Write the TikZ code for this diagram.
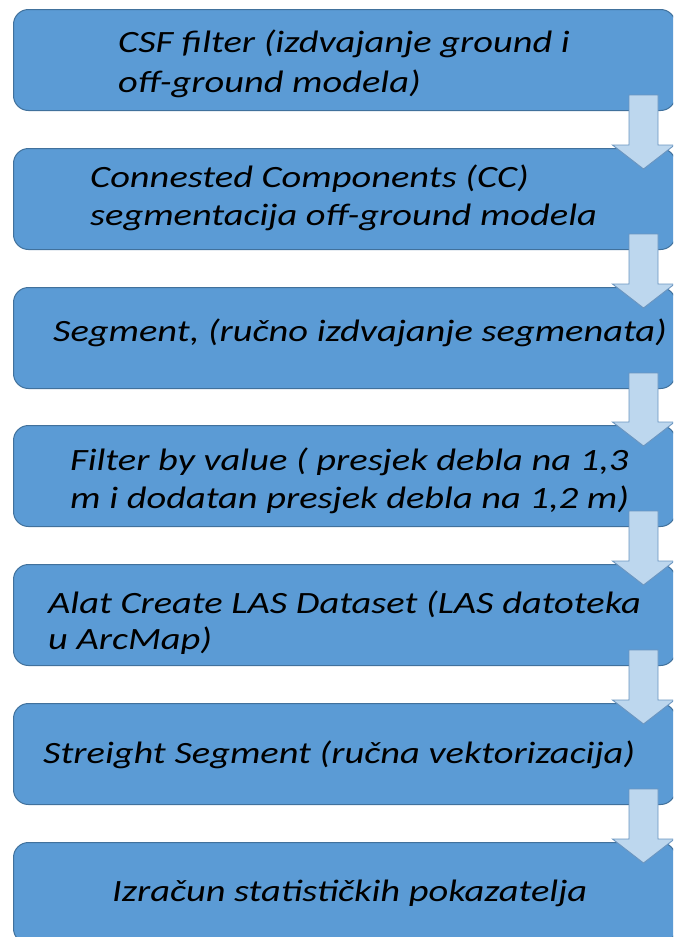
\documentclass[tikz,border=0pt]{standalone}
\usepackage{fontspec}
\setmainfont{Carlito}
\usetikzlibrary{calc}
\definecolor{boxfill}{HTML}{5B9BD5}
\definecolor{boxline}{HTML}{41719C}
\definecolor{arrfill}{HTML}{BDD7EE}
\definecolor{arrline}{HTML}{6A95C0}
\newcommand{\wide}[1]{\scalebox{1.24}[1]{#1}}
\begin{document}
\begin{tikzpicture}[x=1pt,y=-1pt,
  stepbox/.style={draw=boxline,fill=boxfill,line width=1pt,rounded corners=15pt,
    minimum width=662pt,minimum height=101pt,anchor=north west,inner sep=0pt},
  txt/.style={anchor=base west,inner sep=0pt,font=\fontsize{31}{38}\selectfont\itshape},
  flow/.style={draw=arrline,fill=arrfill,line width=0.9pt,line join=miter}]
\useasboundingbox (0,0) rectangle (673,937);
\begin{scope}
\clip (0,0) rectangle (673,937);
\node[stepbox] (b1) at (13,9) {};
\node[stepbox] (b2) at (13,148) {};
\node[stepbox] (b3) at (13,287) {};
\node[stepbox] (b4) at (13,425) {};
\node[stepbox] (b5) at (13,564) {};
\node[stepbox] (b6) at (13,703) {};
\node[stepbox] (b7) at (13,842) {};
\coordinate (ax) at (643.5,0);
\foreach \a/\b in {b1/b2,b2/b3,b3/b4,b4/b5,b5/b6,b6/b7}{
  \draw[flow] ($(\a.south -| ax)+(-14.5,-16)$) -- ($(\a.south -| ax)+(14.5,-16)$)
    -- ($(\b.north -| ax)+(14.5,-3)$) -- ($(\b.north -| ax)+(31,-3)$)
    -- ($(\b.north -| ax)+(0,21)$) -- ($(\b.north -| ax)+(-31,-3)$)
    -- ($(\b.north -| ax)+(-14.5,-3)$) -- cycle;
}
\end{scope}
\node[txt] (t1a) at (118,52) {\wide{CSF filter (izdvajanje ground i}};
\node[txt] (t1b) at (118,92) {\wide{off-ground modela)}};
\node[txt] (t2a) at (90,187) {\wide{Connested Components (CC)}};
\node[txt] (t2b) at (90,225) {\wide{segmentacija off-ground modela}};
\node[txt] (t3) at (53,341) {\wide{Segment, (ručno izdvajanje segmenata)}};
\node[txt] (t4a) at (70,470) {\wide{Filter by value ( presjek debla na 1,3}};
\node[txt] (t4b) at (70,508) {\wide{m i dodatan presjek debla na 1,2 m)}};
\node[txt] (t5a) at (48,613) {\wide{Alat Create LAS Dataset (LAS datoteka}};
\node[txt] (t5b) at (48,649) {\wide{u ArcMap)}};
\node[txt] (t6) at (43,763) {\wide{Streight Segment (ručna vektorizacija)}};
\node[txt] (t7) at (112,901) {\wide{Izračun statističkih pokazatelja}};
\end{tikzpicture}
\end{document}
